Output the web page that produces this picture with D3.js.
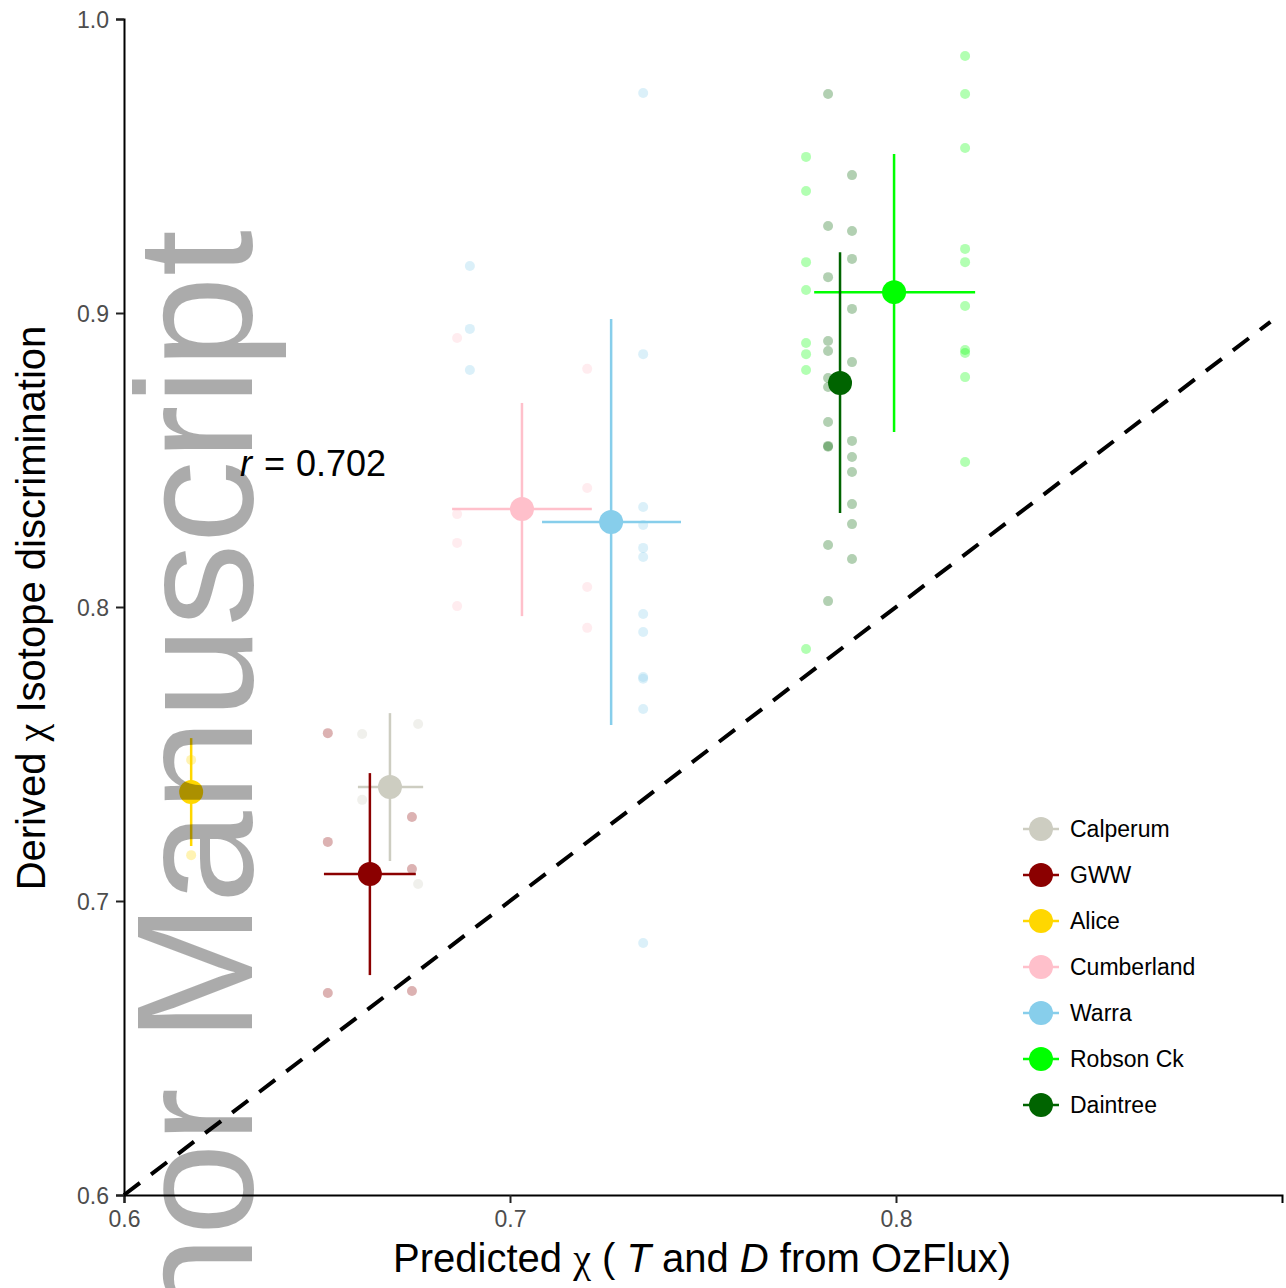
<!DOCTYPE html>
<html>
<head>
<meta charset="utf-8">
<script src="https://cdn.jsdelivr.net/npm/d3@7"></script>
<style>
  body { margin: 0; background: #fff; }
  svg { display: block; font-family: 'Liberation Sans', Arial, sans-serif; }
</style>
</head>
<body>
<div id="chart"></div>
<script>
// sites, in legend order
var sites = ['Calperum', 'GWW', 'Alice', 'Cumberland', 'Warra', 'Robson Ck', 'Daintree'];
var siteColors = ['#CDCDC1', '#8B0000', '#FFD700', '#FFC0CB', '#87CEEB', '#00FF00', '#006400'];

// site means and error bar limits
var meanX = [0.6689, 0.6637, 0.6174, 0.7031, 0.7262, 0.7995, 0.7855];
var meanY = [0.7388, 0.7092, 0.7371, 0.8333, 0.8289, 0.9071, 0.8762];
var xLow  = [0.6606, 0.6518, 0.6174, 0.6850, 0.7083, 0.7788, 0.7855];
var xHigh = [0.6775, 0.6756, 0.6174, 0.7212, 0.7443, 0.8205, 0.7855];
var yLow  = [0.7136, 0.6748, 0.7187, 0.7969, 0.7599, 0.8595, 0.8320];
var yHigh = [0.7639, 0.7435, 0.7554, 0.8694, 0.8980, 0.9541, 0.9207];

// individual observations per site: [x, y]
var obsCalperum = [[0.6617, 0.7568], [0.6617, 0.7344], [0.6762, 0.7602], [0.6762, 0.7058]];
var obsGWW = [[0.6528, 0.7571], [0.6528, 0.7201], [0.6528, 0.6687],
  [0.6746, 0.7286], [0.6746, 0.7109], [0.6746, 0.6694]];
var obsAlice = [[0.6174, 0.7480], [0.6174, 0.7156]];
var obsCumberland = [[0.6863, 0.8915], [0.6863, 0.8316], [0.6863, 0.8218], [0.6863, 0.8003],
  [0.7200, 0.8810], [0.7200, 0.8405], [0.7200, 0.8068], [0.7200, 0.7929]];
var obsWarra = [[0.6896, 0.9160], [0.6896, 0.8946], [0.6896, 0.8806],
  [0.7345, 0.9748], [0.7345, 0.8860], [0.7345, 0.8340], [0.7345, 0.8279], [0.7345, 0.8201],
  [0.7345, 0.8170], [0.7345, 0.7976], [0.7345, 0.7915], [0.7345, 0.7762], [0.7345, 0.7756],
  [0.7345, 0.7653], [0.7345, 0.6857]];
var obsRobson = [[0.7767, 0.9531], [0.7767, 0.9415], [0.7767, 0.9173], [0.7767, 0.9078],
  [0.7767, 0.8898], [0.7767, 0.8860], [0.7767, 0.8806], [0.7767, 0.7857],
  [0.8179, 0.9874], [0.8179, 0.9745], [0.8179, 0.9561], [0.8179, 0.9218], [0.8179, 0.9173],
  [0.8179, 0.9024], [0.8179, 0.8874], [0.8179, 0.8864], [0.8179, 0.8782], [0.8179, 0.8493]];
var obsDaintree = [[0.7824, 0.9745], [0.7824, 0.9296], [0.7824, 0.9122], [0.7824, 0.8905],
  [0.7824, 0.8871], [0.7824, 0.8779], [0.7824, 0.8748], [0.7824, 0.8629], [0.7824, 0.8548],
  [0.7824, 0.8545], [0.7824, 0.8211], [0.7824, 0.8020],
  [0.7886, 0.9469], [0.7886, 0.9279], [0.7886, 0.9184], [0.7886, 0.9014], [0.7886, 0.8833],
  [0.7886, 0.8565], [0.7886, 0.8510], [0.7886, 0.8459], [0.7886, 0.8350], [0.7886, 0.8282],
  [0.7886, 0.8163]];
var observations = [obsCalperum, obsGWW, obsAlice, obsCumberland, obsWarra, obsRobson, obsDaintree];

var xTicks = [0.6, 0.7, 0.8];
var yTicks = [0.6, 0.7, 0.8, 0.9, 1.0];
var rValue = '0.702';

var width = 1286, height = 1288;
var plotLeft = 124, plotTop = 19, plotRight = 1282, plotBottom = 1195;

var svg = d3.select('#chart').append('svg')
  .attr('width', width)
  .attr('height', height);

var x = d3.scaleLinear().domain([0.6, 0.9]).range([plotLeft, plotRight]);
var y = d3.scaleLinear().domain([0.6, 1.0]).range([plotBottom, plotTop]);

// 1:1 line
svg.append('line')
  .attr('x1', x(0.6)).attr('y1', y(0.6))
  .attr('x2', x(0.897)).attr('y2', y(0.897))
  .attr('stroke', '#000')
  .attr('stroke-width', 4)
  .attr('stroke-dasharray', '20,14');

// raw observations
var obsGroups = svg.selectAll('.obs')
  .data(observations)
  .enter().append('g')
  .attr('class', 'obs');
obsGroups.selectAll('circle')
  .data(function (d, i) {
    return d.map(function (p) { return { x: p[0], y: p[1], c: siteColors[i] }; });
  })
  .enter().append('circle')
  .attr('cx', function (d) { return x(d.x); })
  .attr('cy', function (d) { return y(d.y); })
  .attr('r', 5)
  .attr('fill', function (d) { return d.c; })
  .attr('fill-opacity', 0.3);

// error bars and means
var idx = d3.range(sites.length);
var bars = svg.selectAll('.site')
  .data(idx)
  .enter().append('g')
  .attr('class', 'site');
bars.append('line')
  .attr('x1', function (i) { return x(meanX[i]); })
  .attr('x2', function (i) { return x(meanX[i]); })
  .attr('y1', function (i) { return y(yLow[i]); })
  .attr('y2', function (i) { return y(yHigh[i]); })
  .attr('stroke', function (i) { return siteColors[i]; })
  .attr('stroke-width', 2.5);
bars.append('line')
  .attr('x1', function (i) { return x(xLow[i]); })
  .attr('x2', function (i) { return x(xHigh[i]); })
  .attr('y1', function (i) { return y(meanY[i]); })
  .attr('y2', function (i) { return y(meanY[i]); })
  .attr('stroke', function (i) { return siteColors[i]; })
  .attr('stroke-width', 2.5);
bars.append('circle')
  .attr('cx', function (i) { return x(meanX[i]); })
  .attr('cy', function (i) { return y(meanY[i]); })
  .attr('r', 12)
  .attr('fill', function (i) { return siteColors[i]; });

// axes
var xAxis = svg.append('g')
  .attr('transform', 'translate(0,' + plotBottom + ')')
  .call(d3.axisBottom(x).tickValues(xTicks).tickFormat(d3.format('.1f')).tickSizeOuter(0).tickSize(8));
var yAxis = svg.append('g')
  .attr('transform', 'translate(' + plotLeft + ',0)')
  .call(d3.axisLeft(y).tickValues(yTicks).tickFormat(d3.format('.1f')).tickSizeOuter(0).tickSize(8));
[xAxis, yAxis].forEach(function (a) {
  a.attr('font-size', null).attr('font-family', null);
  a.select('.domain').attr('stroke', '#000').attr('stroke-width', 2);
  a.selectAll('.tick line').attr('stroke', '#222').attr('stroke-width', 2);
  a.selectAll('.tick text')
    .attr('fill', '#4d4d4d')
    .style('font-size', '23px');
});
xAxis.selectAll('.tick text').attr('y', 10).attr('dy', '0.95em');
yAxis.selectAll('.tick text').attr('x', -15).attr('dy', '0.35em');

// axis titles
var xTitle = svg.append('text')
  .attr('x', 702).attr('y', 1272)
  .attr('text-anchor', 'middle')
  .style('font-size', '40px');
xTitle.append('tspan').text('Predicted ');
xTitle.append('tspan').style('font-family', "'Liberation Serif', serif").text('\u03C7');
xTitle.append('tspan').text(' ( ');
xTitle.append('tspan').style('font-style', 'italic').text('T');
xTitle.append('tspan').text(' and ');
xTitle.append('tspan').style('font-style', 'italic').text('D');
xTitle.append('tspan').text(' from OzFlux)');

var yTitle = svg.append('text')
  .attr('transform', 'translate(45,608) rotate(-90)')
  .attr('text-anchor', 'middle')
  .style('font-size', '40px');
yTitle.append('tspan').text('Derived ');
yTitle.append('tspan').style('font-family', "'Liberation Serif', serif").text('\u03C7');
yTitle.append('tspan').text(' Isotope discrimination');

// correlation label
var rText = svg.append('text')
  .attr('x', 240).attr('y', 476)
  .style('font-size', '36px');
rText.append('tspan').style('font-style', 'italic').text('r');
rText.append('tspan').attr('dx', 12).text('=');
rText.append('tspan').attr('dx', 11).text(rValue);

// legend
var legend = svg.append('g').attr('transform', 'translate(1041,829)');
var items = legend.selectAll('.item')
  .data(idx)
  .enter().append('g')
  .attr('class', 'item')
  .attr('transform', function (i) { return 'translate(0,' + i * 46 + ')'; });
items.append('line')
  .attr('x1', -18).attr('x2', 18)
  .attr('stroke', function (i) { return siteColors[i]; })
  .attr('stroke-width', 2.5);
items.append('circle')
  .attr('r', 12)
  .attr('fill', function (i) { return siteColors[i]; });
items.append('text')
  .attr('x', 29).attr('dy', '0.35em')
  .style('font-size', '23px')
  .text(function (i) { return sites[i]; });

// watermark
svg.append('text')
  .attr('transform', 'translate(252,230) rotate(-90)')
  .attr('text-anchor', 'end')
  .attr('fill', '#000')
  .attr('fill-opacity', 0.33)
  .style('font-size', '166px')
  .text('Author Manuscript');
</script>
</body>
</html>
